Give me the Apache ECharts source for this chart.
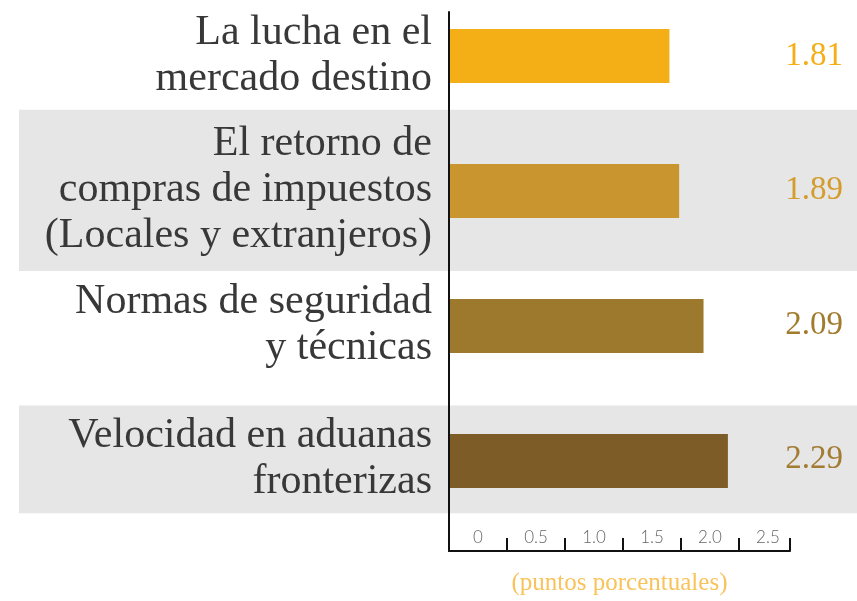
<!DOCTYPE html>
<html>
<head>
<meta charset="utf-8">
<script src="https://cdn.jsdelivr.net/npm/echarts@6/dist/echarts.min.js"></script>
<style>
  html, body { margin:0; padding:0; background:#fff; }
  #chart { width:857px; height:601px; }
</style>
</head>
<body>
<div id="chart"></div>
<script>
// Data
const categories = [
  'La lucha en el\nmercado destino',
  'El retorno de\ncompras de impuestos\n(Locales y extranjeros)',
  'Normas de seguridad\ny técnicas',
  'Velocidad en aduanas\nfronterizas'
];
const values = [1.81, 1.89, 2.09, 2.29];
const tickLabels = ['0', '0.5', '1.0', '1.5', '2.0', '2.5'];
const shadedRows = [1, 3];

// Styles
const barColors   = ['#F4AE16', '#C8952E', '#9C792C', '#7D5C27'];
const labelColors = ['#F4AE16', '#D39C2C', '#A27C2E', '#A27C33'];
const serif = '"Liberation Serif", "DejaVu Serif", serif';

const chart = echarts.init(document.getElementById('chart'), null, { renderer:'canvas' });

const rowIdx = categories.map((_, i) => i);
// row index -> pixel mapping shared by the label axes and the bar grid (135px per row)
const yRange = { min:-0.326, max:3.681 };

const rich = {};
labelColors.forEach((c, i) => { rich['c' + i] = { color:c, fontFamily:serif, fontSize:33 }; });

// shaded bands, height follows number of text lines
const bands = shadedRows.map(i => {
  const lines = categories[i].split('\n').length;
  const half = lines === 3 ? 0.6 : 0.4;
  return [{ x:19, yAxis:i - half }, { x:857, yAxis:i + half }];
});

chart.setOption({
  animation:false,
  backgroundColor:'#ffffff',
  grid: [
    { top:12, bottom:48, left:449, right:67 },
    { top:56, bottom:140, left:449, right:67 }
  ],
  xAxis: [
    { type:'value', gridIndex:0, min:0, max:2.94, position:'bottom', z:5,
      axisLine:{ show:true, onZero:false, lineStyle:{ color:'#111', width:2 } },
      axisTick:{ show:true, inside:true, length:13, lineStyle:{ color:'#111', width:2 },
        customValues:[0.5, 1, 1.5, 2, 2.5, 2.94] },
      axisLabel:{ inside:true, margin:5, color:'#666', fontFamily:'Lato, Roboto, sans-serif',
        fontWeight:300, fontSize:17,
        customValues: tickLabels.map((_, i) => i * 0.5 + 0.25),
        formatter: v => tickLabels[Math.round((v - 0.25) / 0.5)] },
      splitLine:{ show:false },
      name:'(puntos porcentuales)', nameLocation:'middle', nameGap:20,
      nameTextStyle:{ color:'#F9C35B', fontFamily:serif, fontSize:25 } },
    { type:'value', gridIndex:1, min:0, max:2.8, show:false }
  ],
  yAxis: [
    { type:'value', gridIndex:0, inverse:true, min:yRange.min, max:yRange.max, position:'left', z:5,
      axisLine:{ show:true, onZero:false, lineStyle:{ color:'#111', width:2 } },
      axisTick:{ show:false }, splitLine:{ show:false },
      axisLabel:{ margin:17, align:'right', color:'#383838', fontFamily:serif,
        fontSize:42, lineHeight:46,
        customValues: rowIdx,
        formatter: v => categories[Math.round(v)] } },
    { type:'value', gridIndex:0, inverse:true, min:yRange.min, max:yRange.max, position:'right', z:5,
      axisLine:{ show:false }, axisTick:{ show:false }, splitLine:{ show:false },
      axisLabel:{ margin:53, align:'right', rich,
        customValues: rowIdx,
        formatter: v => { const i = Math.round(v); return '{c' + i + '|' + values[i].toFixed(2) + '}'; } } },
    { type:'category', gridIndex:1, inverse:true, boundaryGap:false, data:categories, show:false }
  ],
  series: [
    { type:'scatter', xAxisIndex:0, yAxisIndex:0, data:[], silent:true,
      markArea: { silent:true, itemStyle:{ color:'#E6E6E6' }, data: bands } },
    { type:'bar', xAxisIndex:1, yAxisIndex:2, barWidth:54, z:3,
      data: values.map((v, i) => ({ value:v, itemStyle:{ color:barColors[i] } })) }
  ]
});
</script>
</body>
</html>
